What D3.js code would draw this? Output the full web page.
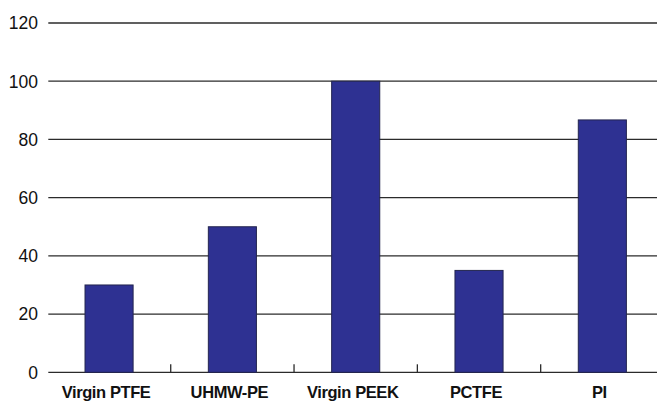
<!DOCTYPE html>
<html>
<head>
<meta charset="utf-8">
<script src="https://cdn.jsdelivr.net/npm/d3@7"></script>
<style>
  html, body { margin: 0; padding: 0; background: #fff; }
  svg { display: block; font-family: "Liberation Sans", Arial, sans-serif; }
</style>
</head>
<body>
<script>
// data
const categories = ["Virgin PTFE", "UHMW-PE", "Virgin PEEK", "PCTFE", "PI"];
const values = [30, 50, 100, 35, 86.7];
const yTicks = [0, 20, 40, 60, 80, 100, 120];

const W = 657, H = 403;
const svg = d3.select("body").append("svg")
  .attr("width", W)
  .attr("height", H);

// plot area runs a little past the right edge, like the original
const x = d3.scaleBand()
  .domain(categories)
  .range([47.4, 664])
  .padding(0);

const y = d3.scaleLinear()
  .domain([0, 120])
  .range([372.3, 23]);

// gridlines + y labels
const yAxis = svg.append("g");
yAxis.selectAll("line")
  .data(yTicks)
  .join("line")
  .attr("x1", 48.3)
  .attr("x2", W)
  .attr("y1", d => y(d))
  .attr("y2", d => y(d))
  .attr("stroke", "#2b2b2b")
  .attr("stroke-width", 1.3);

yAxis.selectAll("text")
  .data(yTicks)
  .join("text")
  .attr("x", 38)
  .attr("y", d => y(d))
  .attr("dy", "0.36em")
  .attr("text-anchor", "end")
  .attr("font-size", 17.5)
  .attr("fill", "#111")
  .text(d => d);

// category ticks between bands
svg.append("g")
  .selectAll("line")
  .data(categories.slice(1))
  .join("line")
  .attr("x1", d => x(d))
  .attr("x2", d => x(d))
  .attr("y1", y(0))
  .attr("y2", y(0) - 8)
  .attr("stroke", "#2b2b2b")
  .attr("stroke-width", 1.3);

// bars
const barW = x.bandwidth() * 0.39;
svg.append("g")
  .selectAll("rect")
  .data(categories)
  .join("rect")
  .attr("x", d => x(d) + (x.bandwidth() - barW) / 2)
  .attr("width", barW)
  .attr("y", (d, i) => y(values[i]))
  .attr("height", (d, i) => y(0) - y(values[i]))
  .attr("fill", "#2e3192")
  .attr("stroke", "#23254f")
  .attr("stroke-width", 1);

// category labels
svg.append("g")
  .selectAll("text")
  .data(categories)
  .join("text")
  .attr("x", d => x(d) + x.bandwidth() / 2 - 3)
  .attr("y", 398)
  .attr("text-anchor", "middle")
  .attr("font-size", 16.5)
  .attr("font-weight", "bold")
  .attr("letter-spacing", -0.4)
  .attr("fill", "#111")
  .text(d => d);
</script>
</body>
</html>
